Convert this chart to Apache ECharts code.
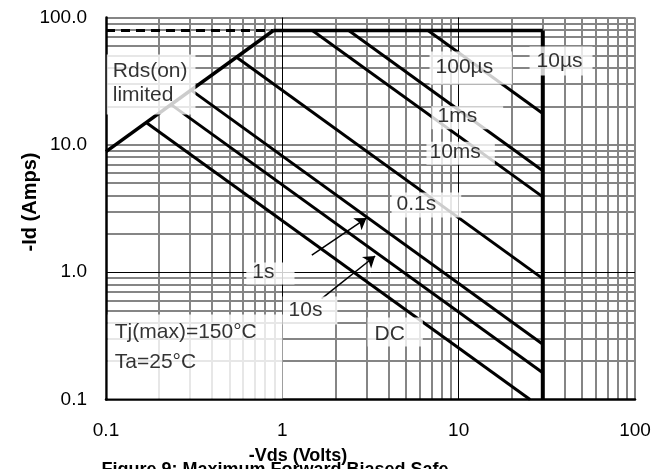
<!DOCTYPE html>
<html>
<head>
<meta charset="utf-8">
<script src="https://cdn.jsdelivr.net/npm/echarts@6/dist/echarts.min.js"></script>
<style>
  html, body { margin: 0; padding: 0; background: #fff; }
  #chart { width: 654px; height: 469px; }
</style>
</head>
<body>
<div id="chart"></div>
<script>
// Tick labels for the three log decades on each axis
const xTickLabels = ['0.1', '1', '10', '100'];
const yTickLabels = ['0.1', '1.0', '10.0', '100.0'];
const decades = [0.1, 1, 10];
const mantissas = [2, 3, 4, 5, 6, 7, 8, 9];

// Safe operating area boundary, points are [-Vds (V), -Id (A)]
const rdsOnLimit = [[0.1, 8.85], [0.89, 79]];
const currentLimit = [[0.89, 79], [30, 79]];
const currentLimitExt = [[0.1, 79], [0.89, 79]];
const voltageLimit = [[30, 79], [30, 0.1]];

// Pulse-width limited lines
const pulse100us = [[6.7, 79], [30, 17.6]];
const pulse1ms = [[2.38, 79], [30, 6.26]];
const pulse10ms = [[1.48, 79], [30, 3.9]];
const pulse100ms = [[0.55, 48.7], [30, 0.89]];
const pulse1s = [[0.304, 26.9], [30, 0.272]];
const pulse10s = [[0.234, 20.7], [30, 0.162]];
const pulseDC = [[0.169, 15.0], [25.4, 0.1]];

// Annotation texts and the top-left corner of each white text box
const noteTexts = ['Rds(on)\nlimited', '100\u00b5s', '10\u00b5s', '1ms', '10ms', '0.1s', '1s', '10s', 'DC', 'Tj(max)=150\u00b0C\nTa=25\u00b0C'];
const noteCorners = [[0.1017, 50.8], [6.88, 53.6], [25.4, 58.7], [7.06, 19.9], [6.61, 10.5], [4.19, 4.18], [0.629, 1.179], [1.01, 0.637], [3.06, 0.436], [0.103, 0.46]];

// Pointer arrows from the "1s" and "10s" notes to their lines
const arrow1s = [[1.47, 1.36], [3.0, 2.66]];
const arrow10s = [[1.67, 0.62], [3.36, 1.34]];

const FONT = '"Liberation Sans", Arial, Helvetica, sans-serif';
const notePadding = [[5, 8, 7, 6], [6, 19, 7, 6], [5, 10, 4, 7], [0, 26, 3, 6], [1, 14, 2, 3], [2, 25, 3, 5], [0, 20, 2, 6], [4, 15, 4, 6], [7, 18, 2, 7], [3, 26, 21, 7]];
const noteLineHeight = [24, 20, 20, 20, 20, 20, 20, 20, 20, 30];

// Grid segments: minor lines in grey, unit decade lines in thin black
const GREY = { color: '#858585', width: 2, opacity: 1 };
const BLACK = { color: '#000', width: 1, opacity: 1 };
const gridSegs = [];
decades.forEach(d => mantissas.forEach(m => {
  const v = +(d * m).toPrecision(3);
  gridSegs.push({ coords: [[v, 0.1], [v, 100]], lineStyle: GREY });
  gridSegs.push({ coords: [[0.1, v], [100, v]], lineStyle: GREY });
}));
gridSegs.push({ coords: [[100, 0.1], [100, 100]], lineStyle: GREY });
gridSegs.push({ coords: [[0.1, 100], [100, 100]], lineStyle: GREY });
gridSegs.push({ coords: [[0.1, 10], [100, 10]], lineStyle: GREY });
gridSegs.push({ coords: [[1, 0.1], [1, 100]], lineStyle: BLACK });
gridSegs.push({ coords: [[10, 0.1], [10, 100]], lineStyle: BLACK });
gridSegs.push({ coords: [[0.1, 1], [100, 1]], lineStyle: BLACK });

function soaLine(data, width, type) {
  return {
    type: 'line', data: data, z: 3, silent: true, showSymbol: false, symbol: 'none',
    lineStyle: { color: '#000', width: width, type: type || 'solid', cap: 'butt' }
  };
}

const chart = echarts.init(document.getElementById('chart'), null, { renderer: 'canvas' });
chart.setOption({
  animation: false,
  backgroundColor: '#fff',
  grid: { left: 106, right: 19, top: 17.5, bottom: 69.5 },
  xAxis: {
    type: 'log', logBase: 10, min: 0.1, max: 100, z: 2,
    axisLine: { onZero: false, lineStyle: { color: '#000', width: 2.5 } },
    axisTick: { show: false }, splitLine: { show: false },
    axisLabel: {
      margin: 22, fontSize: 19, color: '#000', fontFamily: FONT,
      formatter: v => xTickLabels[Math.round(Math.log10(v)) + 1]
    }
  },
  yAxis: {
    type: 'log', logBase: 10, min: 0.1, max: 100, z: 2,
    axisLine: { onZero: false, lineStyle: { color: '#000', width: 2.5 } },
    axisTick: { show: false }, splitLine: { show: false },
    axisLabel: {
      margin: 19, fontSize: 19, color: '#000', fontFamily: FONT,
      formatter: v => yTickLabels[Math.round(Math.log10(v)) + 1]
    }
  },
  series: [
    {
      type: 'lines', coordinateSystem: 'cartesian2d', polyline: false, silent: true, z: 1,
      lineStyle: { color: '#858585', width: 2, opacity: 1 },
      data: gridSegs
    },
    soaLine(currentLimitExt, 3, [9, 6]),
    soaLine(rdsOnLimit, 3.5),
    soaLine(currentLimit, 3.5),
    soaLine(voltageLimit, 4),
    soaLine(pulse100us, 3),
    soaLine(pulse1ms, 3),
    soaLine(pulse10ms, 3),
    soaLine(pulse100ms, 3),
    soaLine(pulse1s, 3),
    soaLine(pulse10s, 3),
    soaLine(pulseDC, 3),
    {
      type: 'lines', coordinateSystem: 'cartesian2d', polyline: false, silent: true, z: 4,
      symbol: ['none', 'arrow'], symbolSize: 11,
      lineStyle: { color: '#000', width: 1.5, opacity: 1 },
      data: [{ coords: arrow1s }, { coords: arrow10s }]
    },
    {
      type: 'scatter', z: 10, silent: true, symbolSize: 1,
      itemStyle: { color: 'rgba(0,0,0,0)' },
      label: {
        show: true, position: [0, 0], align: 'left', verticalAlign: 'top',
        backgroundColor: '#fff', color: '#000', fontSize: 21, fontFamily: FONT
      },
      data: noteCorners.map((c, i) => ({
        value: c,
        label: { formatter: noteTexts[i], padding: notePadding[i], lineHeight: noteLineHeight[i] }
      }))
    }
  ],
  graphic: [
    {
      type: 'text', x: 298, y: 456.5, z: 20,
      style: { text: '-Vds (Volts)', font: 'bold 18px ' + FONT, fill: '#000',
               textAlign: 'center', textVerticalAlign: 'middle', align: 'center', verticalAlign: 'middle' }
    },
    {
      type: 'text', x: 275, y: 470, z: 19,
      style: { text: 'Figure 9: Maximum Forward Biased Safe', font: 'bold 18px ' + FONT, fill: '#000',
               textAlign: 'center', textVerticalAlign: 'middle', align: 'center', verticalAlign: 'middle' }
    },
    {
      type: 'text', x: 30, y: 202, rotation: Math.PI / 2, z: 20,
      style: { text: '-Id (Amps)', font: 'bold 20px ' + FONT, fill: '#000',
               textAlign: 'center', textVerticalAlign: 'middle', align: 'center', verticalAlign: 'middle' }
    }
  ]
});
</script>
</body>
</html>
